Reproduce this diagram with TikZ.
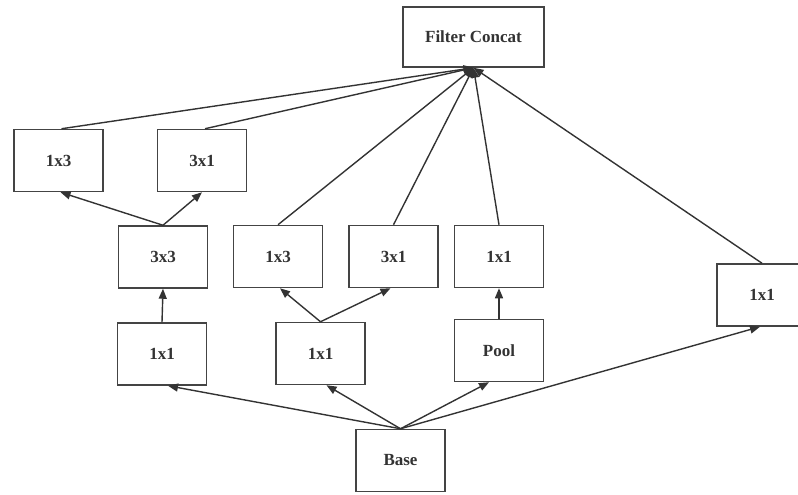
\documentclass[tikz,border=0pt]{standalone}
\usepackage{fontspec}
\setmainfont{Liberation Serif}
\usetikzlibrary{arrows.meta}
\definecolor{edge}{HTML}{333333}
\definecolor{boxline}{HTML}{444444}
\begin{document}
\begin{tikzpicture}[x=1pt,y=-1pt,
  box/.style={draw=boxline,line width=1.5pt,fill=white,minimum width=89pt,minimum height=62pt,inner sep=0pt,font=\fontsize{17}{19}\selectfont\bfseries,text=black!80},
  conn/.style={draw=edge,line width=1.4pt,-{Triangle[length=10pt,width=8pt]}}]
\useasboundingbox (0,0) rectangle (798,495);
\node[box,minimum width=141pt,minimum height=60pt] (fc) at (473.5,37) {Filter Concat};
\node[box] (a13) at (58.5,160.5) {1x3};
\node[box] (a31) at (202,160.5) {3x1};
\node[box] (c33) at (163,257) {3x3};
\node[box] (m13) at (278,256.5) {1x3};
\node[box] (m31) at (393.5,256.5) {3x1};
\node[box] (t11) at (499,256.5) {1x1};
\node[box,minimum width=90pt] (r11) at (762,295) {1x1};
\node[box] (l11) at (162,354) {1x1};
\node[box] (m11) at (320.5,353.5) {1x1};
\node[box] (pool) at (499,350.5) {Pool};
\node[box] (base) at (400.5,460.5) {Base};
\draw[conn] (base.north) -- ([xshift=6pt]l11.south);
\draw[conn] (base.north) -- ([xshift=6pt]m11.south);
\draw[conn] (base.north) -- ([xshift=-10pt]pool.south);
\draw[conn] (base.north) -- ([xshift=-2pt]r11.south);
\draw[conn] (l11.north) -- (c33.south);
\draw[conn] (c33.north) -- ([xshift=2pt]a13.south);
\draw[conn] (c33.north) -- (a31.south);
\draw[conn] (m11.north) -- ([xshift=2pt]m13.south);
\draw[conn] (m11.north) -- ([xshift=-3pt]m31.south);
\draw[conn] (pool.north) -- (t11.south);
\draw[conn] ([xshift=3pt]a13.north) -- (fc.south);
\draw[conn] ([xshift=3pt]a31.north) -- (fc.south);
\draw[conn] (m13.north) -- (fc.south);
\draw[conn] (m31.north) -- (fc.south);
\draw[conn] (t11.north) -- (fc.south);
\draw[conn] (r11.north) -- (fc.south);
\end{tikzpicture}
\end{document}
